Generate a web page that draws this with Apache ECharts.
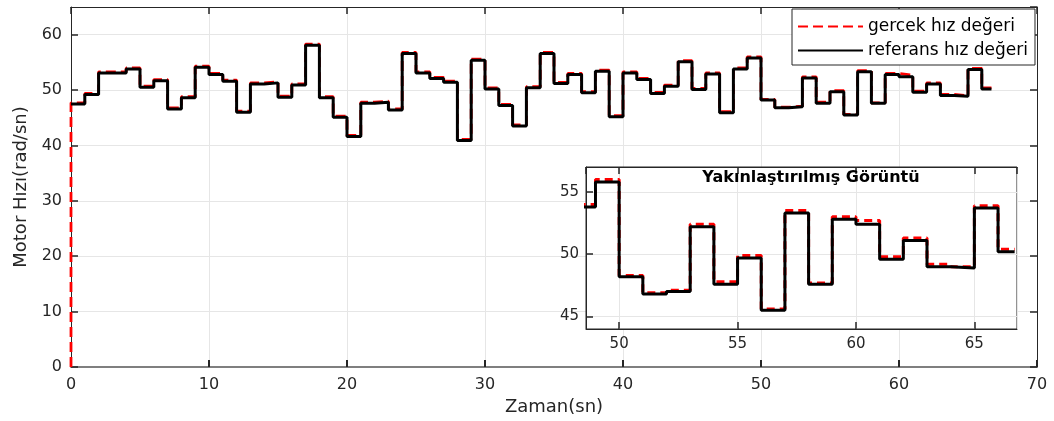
<!DOCTYPE html>
<html>
<head>
<meta charset="utf-8">
<script src="https://cdn.jsdelivr.net/npm/echarts@6/dist/echarts.min.js"></script>
<style>
html, body { margin: 0; padding: 0; background: #fff; }
#container { width: 1054px; height: 421px; }
</style>
</head>
<body>
<div id="container"></div>
<script>
// step change times (sn), one value per step
var stepTimes = [0, 1, 2, 3, 4, 5, 6, 7, 8, 9, 10, 11, 12, 13, 14, 15, 16, 17, 18, 19,
    20, 21, 22, 23, 24, 25, 26, 27, 28, 29, 30, 31, 32, 33, 34, 35, 36, 37, 38, 39,
    40, 41, 42, 43, 44, 45, 46, 47, 48, 49, 50, 51, 52, 53, 54, 55, 56, 57, 58, 59,
    60, 61, 62, 63, 64, 65, 66];
var endTime = 66.7;

// referans hız değeri
var referansHiz = [47.5, 49.2, 53.1, 53.1, 53.8, 50.5, 51.7, 46.6, 48.6, 54.1,
    52.8, 51.6, 46.0, 51.1, 51.3, 48.7, 50.9, 58.1, 48.6, 45.1,
    41.6, 47.6, 47.8, 46.4, 56.6, 53.1, 52.1, 51.4, 40.9, 55.4,
    50.2, 47.2, 43.5, 50.4, 56.6, 51.2, 52.8, 49.5, 53.4, 45.2,
    53.1, 51.9, 49.4, 50.7, 55.1, 50.1, 52.9, 45.9, 53.8, 55.8,
    48.2, 46.8, 47.0, 52.2, 47.6, 49.7, 45.5, 53.3, 47.6, 52.8,
    52.4, 49.6, 51.1, 49.0, 48.9, 53.7, 50.2];

// gercek hız değeri
var gercekHiz = [47.7, 49.4, 53.3, 53.3, 54.0, 50.7, 51.9, 46.8, 48.8, 54.3,
    53.0, 51.8, 46.2, 51.3, 51.5, 48.9, 51.1, 58.3, 48.8, 45.3,
    41.8, 47.8, 48.0, 46.6, 56.8, 53.3, 52.3, 51.6, 41.1, 55.6,
    50.4, 47.4, 43.7, 50.6, 56.8, 51.4, 53.0, 49.7, 53.6, 45.4,
    53.3, 52.1, 49.6, 50.9, 55.3, 50.3, 53.1, 46.1, 54.0, 56.0,
    48.3, 46.9, 47.1, 52.4, 47.8, 49.9, 45.6, 53.5, 47.7, 53.0,
    52.7, 49.8, 51.3, 49.2, 49.0, 53.9, 50.4];
var gercekStart = 0;

var seriesNames = ['gercek hız değeri', 'referans hız değeri'];

function toSteps(values, startValue) {
    var pts = [];
    if (startValue !== undefined) pts.push([0, startValue]);
    for (var i = 0; i < stepTimes.length; i++) {
        pts.push([stepTimes[i], values[i]]);
    }
    pts.push([endTime, values[values.length - 1]]);
    return pts;
}

var gercekData = toSteps(gercekHiz, gercekStart);
var referansData = toSteps(referansHiz);

var font = 'DejaVu Sans';
var axisColor = '#262626';
var gridColor = '#e6e6e6';

// ticks pointing into the plot (negative length)
function tickIn(width) {
    return { show: true, inside: false, length: -7, lineStyle: { color: axisColor, width: width || 1.5 } };
}

function mirrorAxis(gridIndex, pos, extra) {
    var ax = {
        gridIndex: gridIndex,
        type: 'value',
        position: pos,
        axisLine: { show: true, onZero: false, lineStyle: { color: axisColor, width: 1 } },
        axisTick: tickIn(),
        axisLabel: { show: false },
        splitLine: { show: false }
    };
    return Object.assign(ax, extra);
}

var dom = document.getElementById('container');
var myChart = echarts.init(dom, null, { renderer: 'canvas' });

var option = {
    animation: false,
    backgroundColor: '#fff',
    title: {
        text: 'Yakınlaştırılmış Görüntü',
        left: 811,
        top: 170,
        textAlign: 'center',
        padding: 0,
        z: 20,
        textStyle: { fontFamily: font, fontSize: 16, fontWeight: 'bold', color: '#000' }
    },
    legend: {
        data: seriesNames,
        orient: 'vertical',
        left: 792,
        top: 9,
        padding: [9, 7, 6, 5],
        itemWidth: 65,
        itemHeight: 14,
        itemGap: 7,
        backgroundColor: '#fff',
        borderColor: axisColor,
        borderWidth: 1,
        borderRadius: 0,
        itemStyle: { opacity: 0 },
        textStyle: { fontFamily: font, fontSize: 17, color: '#000' }
    },
    grid: [
        { left: 71, right: 17, top: 7, bottom: 52 },
        { left: 586, right: 37, top: 167, bottom: 92, show: true, backgroundColor: '#fff',
          borderColor: axisColor, borderWidth: 1, z: 10 }
    ],
    xAxis: [
        {
            gridIndex: 0,
            type: 'value',
            min: 0, max: 70, interval: 10,
            name: 'Zaman(sn)',
            nameLocation: 'middle',
            nameGap: 31,
            nameTextStyle: { fontFamily: font, fontSize: 18, color: axisColor },
            axisLine: { show: true, onZero: false, lineStyle: { color: '#7f7f7f', width: 2 } },
            axisTick: tickIn(2),
            axisLabel: { fontFamily: font, fontSize: 16, color: axisColor, margin: 10 },
            splitLine: { show: true, lineStyle: { color: gridColor, width: 1 } }
        },
        mirrorAxis(0, 'top', { min: 0, max: 70, interval: 10 }),
        {
            gridIndex: 1,
            type: 'value',
            min: 48.6, max: 66.8, minInterval: 5, maxInterval: 5,
            z: 11,
            axisLine: { show: true, onZero: false, lineStyle: { color: axisColor, width: 1 } },
            axisTick: tickIn(),
            axisLabel: { fontFamily: font, fontSize: 15, color: axisColor, margin: 8,
                         showMinLabel: false, showMaxLabel: false },
            splitLine: { show: true, lineStyle: { color: gridColor } }
        },
        mirrorAxis(1, 'top', { min: 48.6, max: 66.8, minInterval: 5, maxInterval: 5, z: 11 })
    ],
    yAxis: [
        {
            gridIndex: 0,
            type: 'value',
            min: 0, max: 65, interval: 10,
            name: 'Motor Hızı(rad/sn)',
            nameLocation: 'middle',
            nameGap: 40,
            nameTextStyle: { fontFamily: font, fontSize: 18, color: axisColor },
            axisLine: { show: true, onZero: false, lineStyle: { color: axisColor, width: 1 } },
            axisTick: tickIn(),
            axisLabel: { fontFamily: font, fontSize: 16, color: axisColor, margin: 9, showMaxLabel: false },
            splitLine: { show: true, lineStyle: { color: gridColor, width: 1 } }
        },
        mirrorAxis(0, 'right', { min: 0, max: 65, interval: 10 }),
        {
            gridIndex: 1,
            type: 'value',
            min: 44, max: 57, minInterval: 5, maxInterval: 5,
            z: 11,
            axisLine: { show: true, onZero: false, lineStyle: { color: axisColor, width: 1 } },
            axisTick: tickIn(),
            axisLabel: { fontFamily: font, fontSize: 15, color: axisColor, margin: 7,
                         showMinLabel: false, showMaxLabel: false },
            splitLine: { show: true, lineStyle: { color: gridColor } }
        }
    ],
    series: [
        // main plot
        {
            name: seriesNames[0],
            type: 'line',
            step: 'end',
            xAxisIndex: 0, yAxisIndex: 0,
            showSymbol: false, symbol: 'none',
            data: gercekData,
            lineStyle: { color: '#ff0000', width: 2.8, type: [10, 5] },
            itemStyle: { color: '#ff0000' }
        },
        {
            name: seriesNames[1],
            type: 'line',
            step: 'end',
            xAxisIndex: 0, yAxisIndex: 0,
            showSymbol: false, symbol: 'none',
            data: referansData,
            lineStyle: { color: '#000', width: 3 },
            itemStyle: { color: '#000' }
        },
        // inset (zoom)
        {
            name: seriesNames[0],
            type: 'line',
            step: 'end',
            xAxisIndex: 2, yAxisIndex: 2,
            showSymbol: false, symbol: 'none',
            z: 12,
            data: gercekData,
            lineStyle: { color: '#ff0000', width: 3, type: [8, 5] }
        },
        {
            name: seriesNames[1],
            type: 'line',
            step: 'end',
            xAxisIndex: 2, yAxisIndex: 2,
            showSymbol: false, symbol: 'none',
            z: 12,
            data: referansData,
            lineStyle: { color: '#000', width: 3 }
        }
    ]
};

myChart.setOption(option);
window.addEventListener('resize', myChart.resize);
</script>
</body>
</html>
